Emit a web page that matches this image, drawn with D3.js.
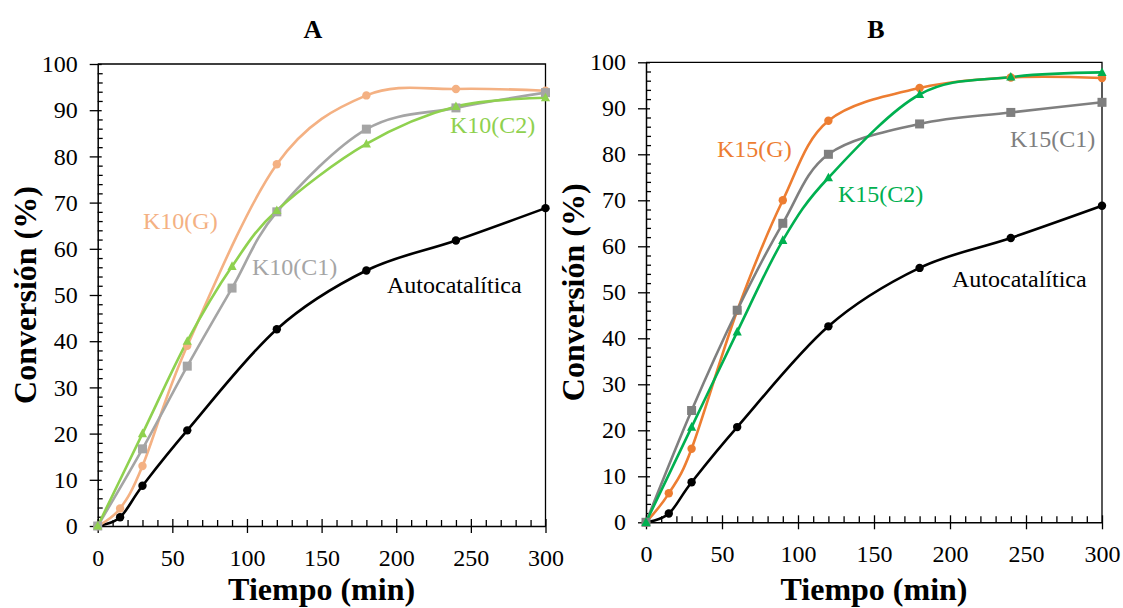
<!DOCTYPE html>
<html>
<head>
<meta charset="utf-8">
<script src="https://cdn.jsdelivr.net/npm/d3@7"></script>
<style>
  html, body { margin: 0; padding: 0; background: #fff; }
  svg { display: block; font-family: "Liberation Serif", "Times New Roman", serif; }
</style>
</head>
<body>
<svg id="chart" width="1123" height="608"></svg>
<script>
// ---------- DATA ----------
const xTicks = [0, 50, 100, 150, 200, 250, 300];
const yTicks = [0, 10, 20, 30, 40, 50, 60, 70, 80, 90, 100];

const autoTime = [0, 15, 30, 60, 120, 180, 240, 300];
const autoConv = [0, 1.9, 8.7, 20.7, 42.6, 55.3, 61.8, 68.8];

const k10gTime = [0, 15, 30, 60, 120, 180, 240, 300];
const k10gConv = [0, 3.8, 13.0, 39.0, 78.3, 93.2, 94.6, 94.2];
const k10c1Time = [0, 30, 60, 90, 120, 180, 240, 300];
const k10c1Conv = [0, 16.7, 34.6, 51.5, 68.0, 85.9, 90.5, 93.8];
const k10c2Time = [0, 30, 60, 90, 120, 180, 240, 300];
const k10c2Conv = [0, 20.0, 40.0, 56.2, 68.3, 82.7, 90.8, 92.7];

const k15gTime = [0, 15, 30, 60, 90, 120, 180, 240, 300];
const k15gConv = [0, 6.3, 16.0, 46.0, 70.0, 87.3, 94.4, 96.7, 96.6];
const k15c1Time = [0, 30, 60, 90, 120, 180, 240, 300];
const k15c1Conv = [0, 24.3, 46.1, 65.0, 80.0, 86.6, 89.1, 91.3];
const k15c2Time = [0, 30, 60, 90, 120, 180, 240, 300];
const k15c2Conv = [0, 20.7, 41.4, 61.3, 74.9, 93.0, 96.8, 97.8];

const zip = (xs, ys) => xs.map((x, i) => ({ x, y: ys[i] }));

const panels = [
  {
    title: "A", titleX: 313,
    box: { x0: 97.7, x1: 545.5, y0: 526, y1: 64 },
    series: [
      { name: "Autocatalítica", data: zip(autoTime, autoConv), color: "#000000", marker: "circle", label: [387, 293] },
      { name: "K10(G)", data: zip(k10gTime, k10gConv), color: "#F4B183", marker: "circle", label: [143, 229] },
      { name: "K10(C1)", data: zip(k10c1Time, k10c1Conv), color: "#A5A5A5", marker: "square", label: [252, 275] },
      { name: "K10(C2)", data: zip(k10c2Time, k10c2Conv), color: "#8FD14F", marker: "triangle", label: [450, 133] }
    ]
  },
  {
    title: "B", titleX: 876,
    box: { x0: 646, x1: 1102, y0: 522.3, y1: 62.3 },
    series: [
      { name: "Autocatalítica", data: zip(autoTime, autoConv), color: "#000000", marker: "circle", label: [952, 287] },
      { name: "K15(G)", data: zip(k15gTime, k15gConv), color: "#ED7D31", marker: "circle", label: [717, 157] },
      { name: "K15(C1)", data: zip(k15c1Time, k15c1Conv), color: "#7F7F7F", marker: "square", label: [1010, 147] },
      { name: "K15(C2)", data: zip(k15c2Time, k15c2Conv), color: "#00B050", marker: "triangle", label: [838, 202] }
    ]
  }
];

// ---------- DRAW ----------
const svg = d3.select("#chart");

panels.forEach(p => {
  const b = p.box;
  const x = d3.scaleLinear().domain([0, 300]).range([b.x0, b.x1]);
  const y = d3.scaleLinear().domain([0, 100]).range([b.y0, b.y1]);
  const g = svg.append("g");

  // frame (top and right)
  g.append("path")
    .attr("d", `M${b.x0},${b.y1}H${b.x1}V${b.y0}`)
    .attr("fill", "none").attr("stroke", "#000").attr("stroke-width", 1.3);

  // minor ticks
  const xMinor = d3.range(0, 301, 10).filter(v => v % 50 !== 0);
  const yMinor = d3.range(0, 101, 2).filter(v => v % 10 !== 0);

  const xAxisMinor = g.append("g").attr("transform", `translate(0,${b.y0})`)
    .call(d3.axisBottom(x).tickValues(xMinor).tickSize(-6).tickFormat(""));
  const yAxisMinor = g.append("g").attr("transform", `translate(${b.x0},0)`)
    .call(d3.axisLeft(y).tickValues(yMinor).tickSize(-5).tickFormat(""));
  [xAxisMinor, yAxisMinor].forEach(a => {
    a.select(".domain").remove();
    a.selectAll("line").attr("stroke", "#000").attr("stroke-width", 1.3);
  });

  // major axes
  const xAxis = g.append("g").attr("transform", `translate(0,${b.y0})`)
    .call(d3.axisBottom(x).tickValues(xTicks).tickSize(7).tickPadding(16).tickSizeOuter(0));
  xAxis.selectAll(".tick line").attr("y1", -7);
  const yAxis = g.append("g").attr("transform", `translate(${b.x0},0)`)
    .call(d3.axisLeft(y).tickValues(yTicks).tickSize(8).tickPadding(12).tickSizeOuter(0));
  yAxis.selectAll(".tick line").attr("x1", 4);

  [xAxis, yAxis].forEach(a => {
    a.select(".domain").attr("stroke", "#000").attr("stroke-width", 1.5);
    a.selectAll(".tick line").attr("stroke", "#000").attr("stroke-width", 1.3);
    a.selectAll(".tick text")
      .attr("fill", "#000")
      .style("font-family", '"Liberation Serif", "Times New Roman", serif')
      .style("font-size", "24px");
  });

  // lines
  const line = d3.line().x(d => x(d.x)).y(d => y(d.y)).curve(d3.curveCardinal.tension(0));
  p.series.forEach(s => {
    g.append("path").datum(s.data)
      .attr("d", line)
      .attr("fill", "none")
      .attr("stroke", s.color)
      .attr("stroke-width", 2.6)
      .attr("stroke-linejoin", "round");
  });

  // markers
  p.series.forEach(s => {
    const mg = g.append("g").attr("fill", s.color);
    s.data.forEach(d => {
      const cx = x(d.x), cy = y(d.y);
      if (s.marker === "circle") {
        mg.append("circle").attr("cx", cx).attr("cy", cy).attr("r", 4.2);
      } else if (s.marker === "square") {
        mg.append("rect").attr("x", cx - 4.5).attr("y", cy - 4.5).attr("width", 9).attr("height", 9);
      } else {
        mg.append("path").attr("d", `M${cx},${cy - 5}L${cx + 4.6},${cy + 3.6}L${cx - 4.6},${cy + 3.6}Z`);
      }
    });
  });

  // series labels
  p.series.forEach(s => {
    g.append("text")
      .attr("x", s.label[0]).attr("y", s.label[1])
      .attr("fill", s.color === "#000000" ? "#000" : s.color)
      .style("font-size", "24px")
      .text(s.name);
  });

  // panel title
  g.append("text")
    .attr("x", p.titleX).attr("y", 38)
    .attr("text-anchor", "middle")
    .style("font-size", "26px").style("font-weight", "bold")
    .text(p.title);

  // axis titles
  g.append("text")
    .attr("x", (b.x0 + b.x1) / 2).attr("y", 600)
    .attr("text-anchor", "middle")
    .style("font-size", "32px").style("font-weight", "bold")
    .text("Tiempo (min)");

  g.append("text")
    .attr("transform", `translate(${b.x0 - 62},${(b.y0 + b.y1) / 2}) rotate(-90)`)
    .attr("text-anchor", "middle")
    .style("font-size", "32px").style("font-weight", "bold")
    .text("Conversión (%)");
});
</script>
</body>
</html>
